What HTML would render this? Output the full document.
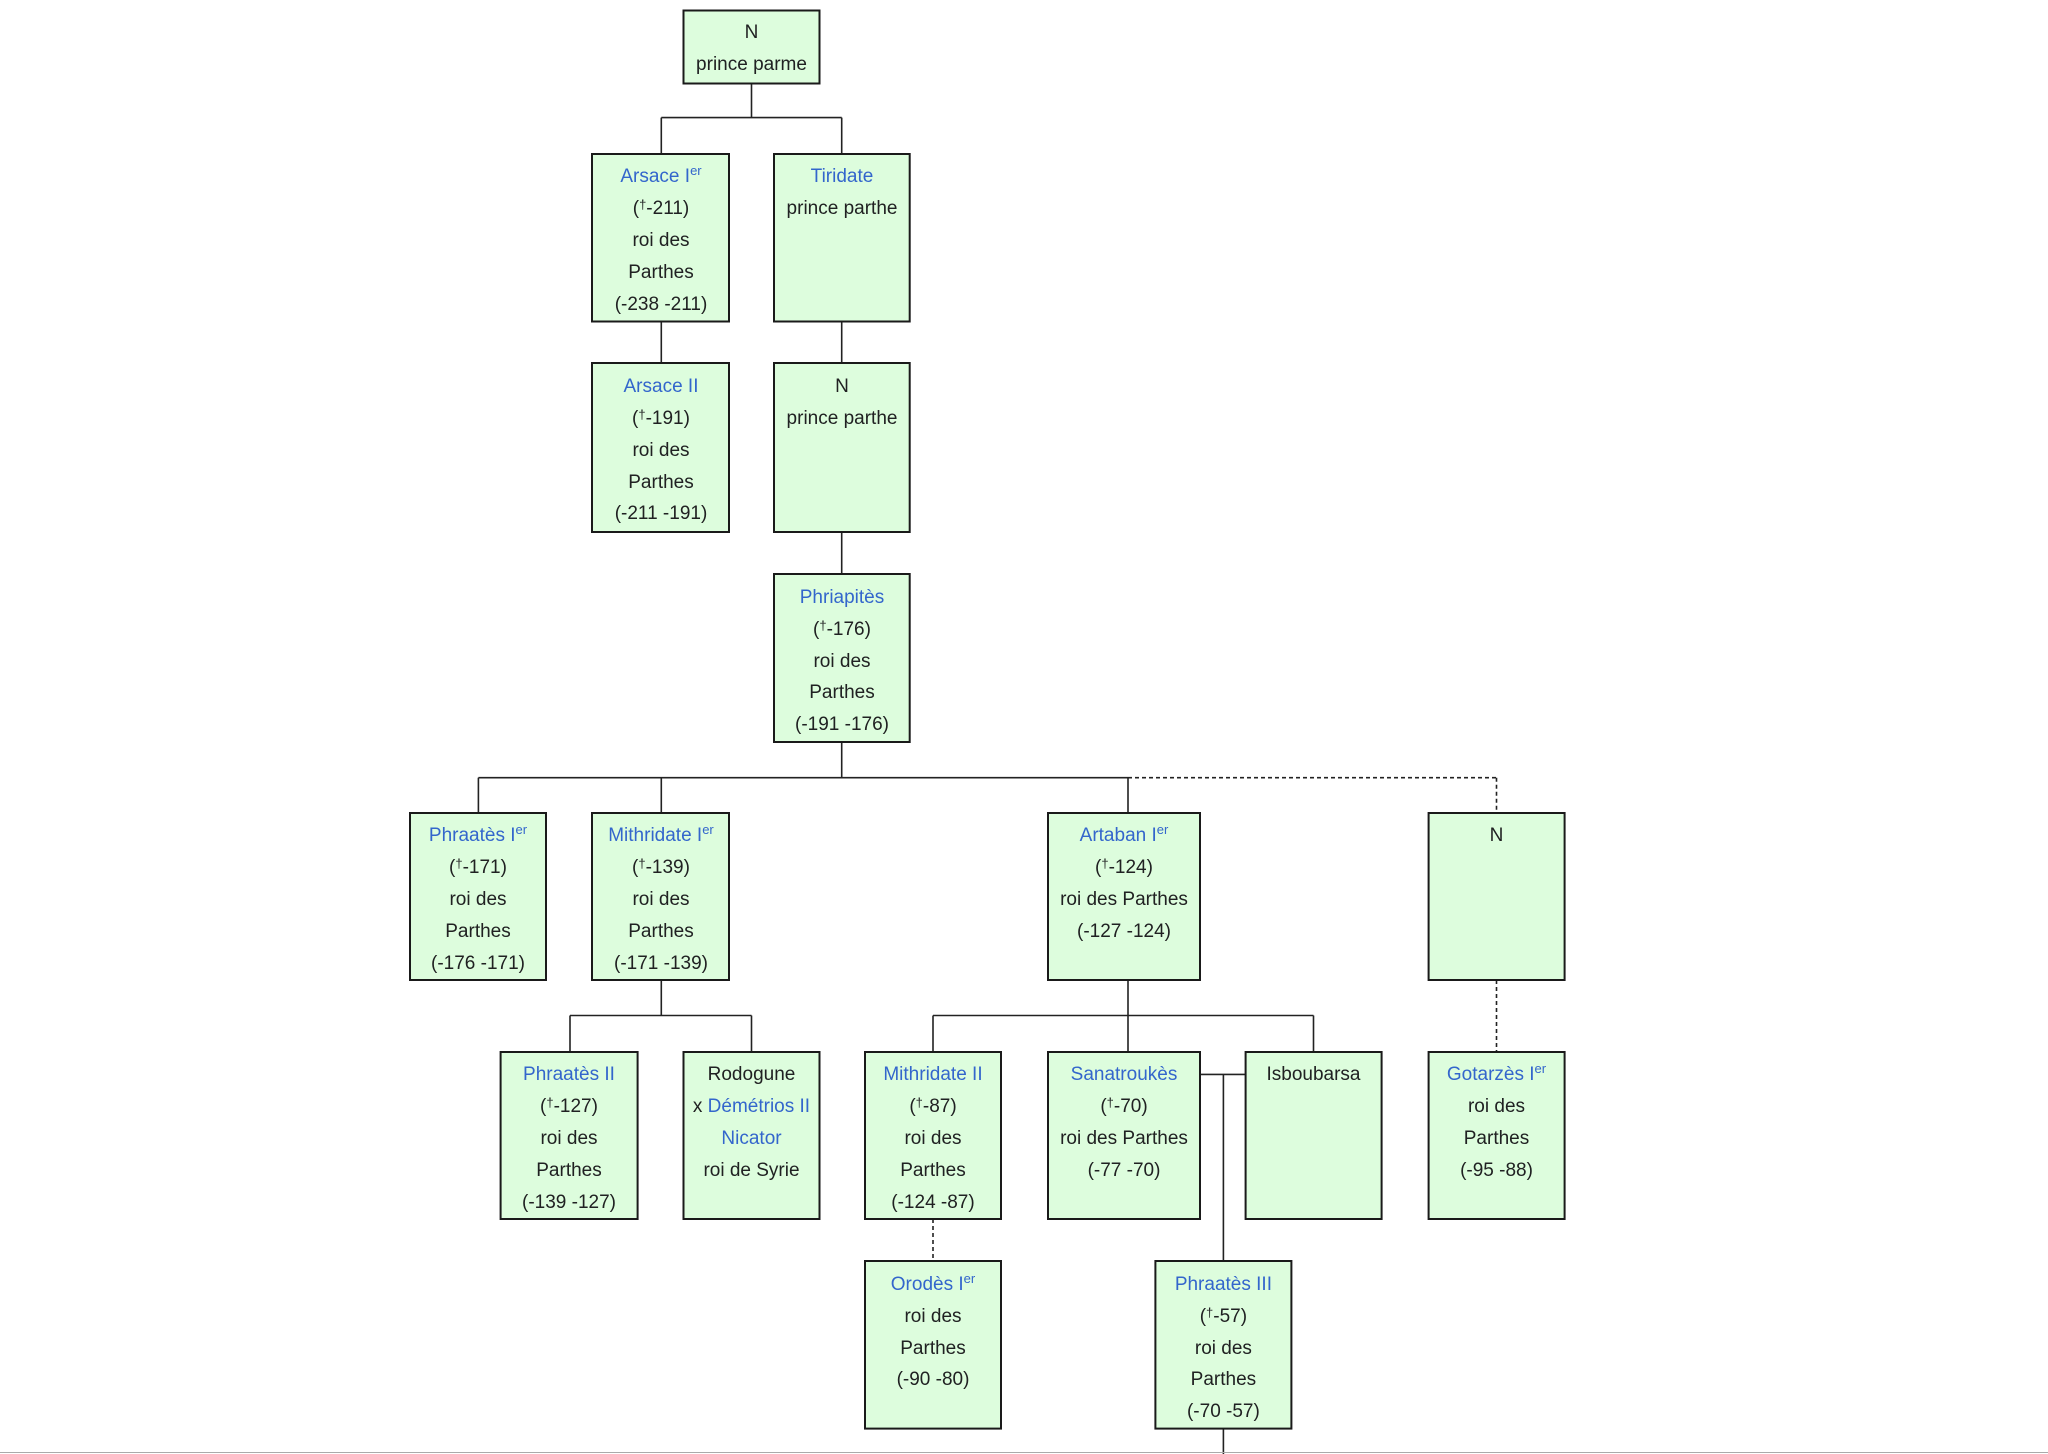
<!DOCTYPE html>
<html><head><meta charset="utf-8"><style>
html,body{margin:0;padding:0;background:#fff;}
svg{display:block;}
text{font-family:"Liberation Sans",sans-serif;font-size:19px;fill:#202122;text-anchor:middle;}
.b{fill:#3366cc;}
rect{fill:#ddfddd;stroke:#1a1a1a;stroke-width:2;}
line{stroke:#222;stroke-width:1.6;}
.d{stroke-dasharray:4,3;}
</style></head><body>
<svg width="2048" height="1454" viewBox="0 0 2048 1454" xmlns="http://www.w3.org/2000/svg">
<!-- connectors -->
<line x1="751.5" y1="83.6" x2="751.5" y2="117.6"/>
<line x1="661.3" y1="117.6" x2="841.7" y2="117.6"/>
<line x1="661.3" y1="117.6" x2="661.3" y2="154"/>
<line x1="841.7" y1="117.6" x2="841.7" y2="154"/>
<line x1="661.3" y1="321.5" x2="661.3" y2="363"/>
<line x1="841.7" y1="321.5" x2="841.7" y2="363"/>
<line x1="841.7" y1="532" x2="841.7" y2="574"/>
<line x1="841.7" y1="742" x2="841.7" y2="777.7"/>
<line x1="478.4" y1="777.7" x2="1128" y2="777.7"/>
<line class="d" x1="1128" y1="777.7" x2="1496.5" y2="777.7"/>
<line x1="478.4" y1="777.7" x2="478.4" y2="813"/>
<line x1="661.3" y1="777.7" x2="661.3" y2="813"/>
<line x1="1128" y1="777.7" x2="1128" y2="813"/>
<line class="d" x1="1496.5" y1="777.7" x2="1496.5" y2="813"/>
<line x1="661.3" y1="980" x2="661.3" y2="1015.5"/>
<line x1="570" y1="1015.5" x2="751.5" y2="1015.5"/>
<line x1="570" y1="1015.5" x2="570" y2="1052"/>
<line x1="751.5" y1="1015.5" x2="751.5" y2="1052"/>
<line x1="1128" y1="980" x2="1128" y2="1052"/>
<line x1="933" y1="1015.5" x2="1313.5" y2="1015.5"/>
<line x1="933" y1="1015.5" x2="933" y2="1052"/>
<line x1="1313.5" y1="1015.5" x2="1313.5" y2="1052"/>
<line class="d" x1="1496.5" y1="980" x2="1496.5" y2="1052"/>
<line class="d" x1="933" y1="1219" x2="933" y2="1261"/>
<line x1="1200" y1="1074.4" x2="1245.6" y2="1074.4"/>
<line x1="1223.4" y1="1074.4" x2="1223.4" y2="1261"/>
<line x1="1223.4" y1="1428.6" x2="1223.4" y2="1454"/>
<line x1="0" y1="1452.5" x2="2048" y2="1452.5" style="stroke:#aaa;stroke-width:1"/>

<!-- boxes -->
<rect x="683.5" y="10.5" width="136" height="73"/>
<text x="751.5" y="38">N</text><text x="751.5" y="70">prince parme</text>

<rect x="592" y="154" width="137" height="167.5"/>
<text x="661" y="182" class="b">Arsace I<tspan font-size="13" dy="-7">er</tspan></text>
<text x="661" y="214">(<tspan font-size="13" dy="-5">†</tspan><tspan dy="5">-211)</tspan></text>
<text x="661" y="246">roi des</text><text x="661" y="278">Parthes</text><text x="661" y="310">(-238 -211)</text>

<rect x="774" y="154" width="135.7" height="167.5"/>
<text x="842" y="182" class="b">Tiridate</text><text x="842" y="214">prince parthe</text>

<rect x="592" y="363" width="137" height="169"/>
<text x="661" y="392" class="b">Arsace II</text>
<text x="661" y="424">(<tspan font-size="13" dy="-5">†</tspan><tspan dy="5">-191)</tspan></text>
<text x="661" y="456">roi des</text><text x="661" y="488">Parthes</text><text x="661" y="519">(-211 -191)</text>

<rect x="774" y="363" width="135.7" height="169"/>
<text x="842" y="392">N</text><text x="842" y="424">prince parthe</text>

<rect x="774" y="574" width="135.7" height="168"/>
<text x="842" y="603" class="b">Phriapitès</text>
<text x="842" y="635">(<tspan font-size="13" dy="-5">†</tspan><tspan dy="5">-176)</tspan></text>
<text x="842" y="667">roi des</text><text x="842" y="698">Parthes</text><text x="842" y="730">(-191 -176)</text>

<rect x="410" y="813" width="136" height="167"/>
<text x="478" y="841" class="b">Phraatès I<tspan font-size="13" dy="-7">er</tspan></text>
<text x="478" y="873">(<tspan font-size="13" dy="-5">†</tspan><tspan dy="5">-171)</tspan></text>
<text x="478" y="905">roi des</text><text x="478" y="937">Parthes</text><text x="478" y="969">(-176 -171)</text>

<rect x="592" y="813" width="137" height="167"/>
<text x="661" y="841" class="b">Mithridate I<tspan font-size="13" dy="-7">er</tspan></text>
<text x="661" y="873">(<tspan font-size="13" dy="-5">†</tspan><tspan dy="5">-139)</tspan></text>
<text x="661" y="905">roi des</text><text x="661" y="937">Parthes</text><text x="661" y="969">(-171 -139)</text>

<rect x="1048" y="813" width="152" height="167"/>
<text x="1124" y="841" class="b">Artaban I<tspan font-size="13" dy="-7">er</tspan></text>
<text x="1124" y="873">(<tspan font-size="13" dy="-5">†</tspan><tspan dy="5">-124)</tspan></text>
<text x="1124" y="905">roi des Parthes</text><text x="1124" y="937">(-127 -124)</text>

<rect x="1428.6" y="813" width="136" height="167"/>
<text x="1496.5" y="841">N</text>

<rect x="500.6" y="1052" width="137" height="167"/>
<text x="569" y="1080" class="b">Phraatès II</text>
<text x="569" y="1112">(<tspan font-size="13" dy="-5">†</tspan><tspan dy="5">-127)</tspan></text>
<text x="569" y="1144">roi des</text><text x="569" y="1176">Parthes</text><text x="569" y="1208">(-139 -127)</text>

<rect x="683.5" y="1052" width="136" height="167"/>
<text x="751.5" y="1080">Rodogune</text>
<text x="751.5" y="1112">x <tspan class="b">Démétrios II</tspan></text>
<text x="751.5" y="1144" class="b">Nicator</text>
<text x="751.5" y="1176">roi de Syrie</text>

<rect x="865" y="1052" width="136" height="167"/>
<text x="933" y="1080" class="b">Mithridate II</text>
<text x="933" y="1112">(<tspan font-size="13" dy="-5">†</tspan><tspan dy="5">-87)</tspan></text>
<text x="933" y="1144">roi des</text><text x="933" y="1176">Parthes</text><text x="933" y="1208">(-124 -87)</text>

<rect x="1048" y="1052" width="152" height="167"/>
<text x="1124" y="1080" class="b">Sanatroukès</text>
<text x="1124" y="1112">(<tspan font-size="13" dy="-5">†</tspan><tspan dy="5">-70)</tspan></text>
<text x="1124" y="1144">roi des Parthes</text><text x="1124" y="1176">(-77 -70)</text>

<rect x="1245.6" y="1052" width="136" height="167"/>
<text x="1313.5" y="1080">Isboubarsa</text>

<rect x="1428.6" y="1052" width="136" height="167"/>
<text x="1496.5" y="1080" class="b">Gotarzès I<tspan font-size="13" dy="-7">er</tspan></text>
<text x="1496.5" y="1112">roi des</text><text x="1496.5" y="1144">Parthes</text><text x="1496.5" y="1176">(-95 -88)</text>

<rect x="865" y="1261" width="136" height="167.6"/>
<text x="933" y="1290" class="b">Orodès I<tspan font-size="13" dy="-7">er</tspan></text>
<text x="933" y="1322">roi des</text><text x="933" y="1354">Parthes</text><text x="933" y="1385">(-90 -80)</text>

<rect x="1155.4" y="1261" width="136" height="167.6"/>
<text x="1223.4" y="1290" class="b">Phraatès III</text>
<text x="1223.4" y="1322">(<tspan font-size="13" dy="-5">†</tspan><tspan dy="5">-57)</tspan></text>
<text x="1223.4" y="1354">roi des</text><text x="1223.4" y="1385">Parthes</text><text x="1223.4" y="1417">(-70 -57)</text>
</svg>
</body></html>
